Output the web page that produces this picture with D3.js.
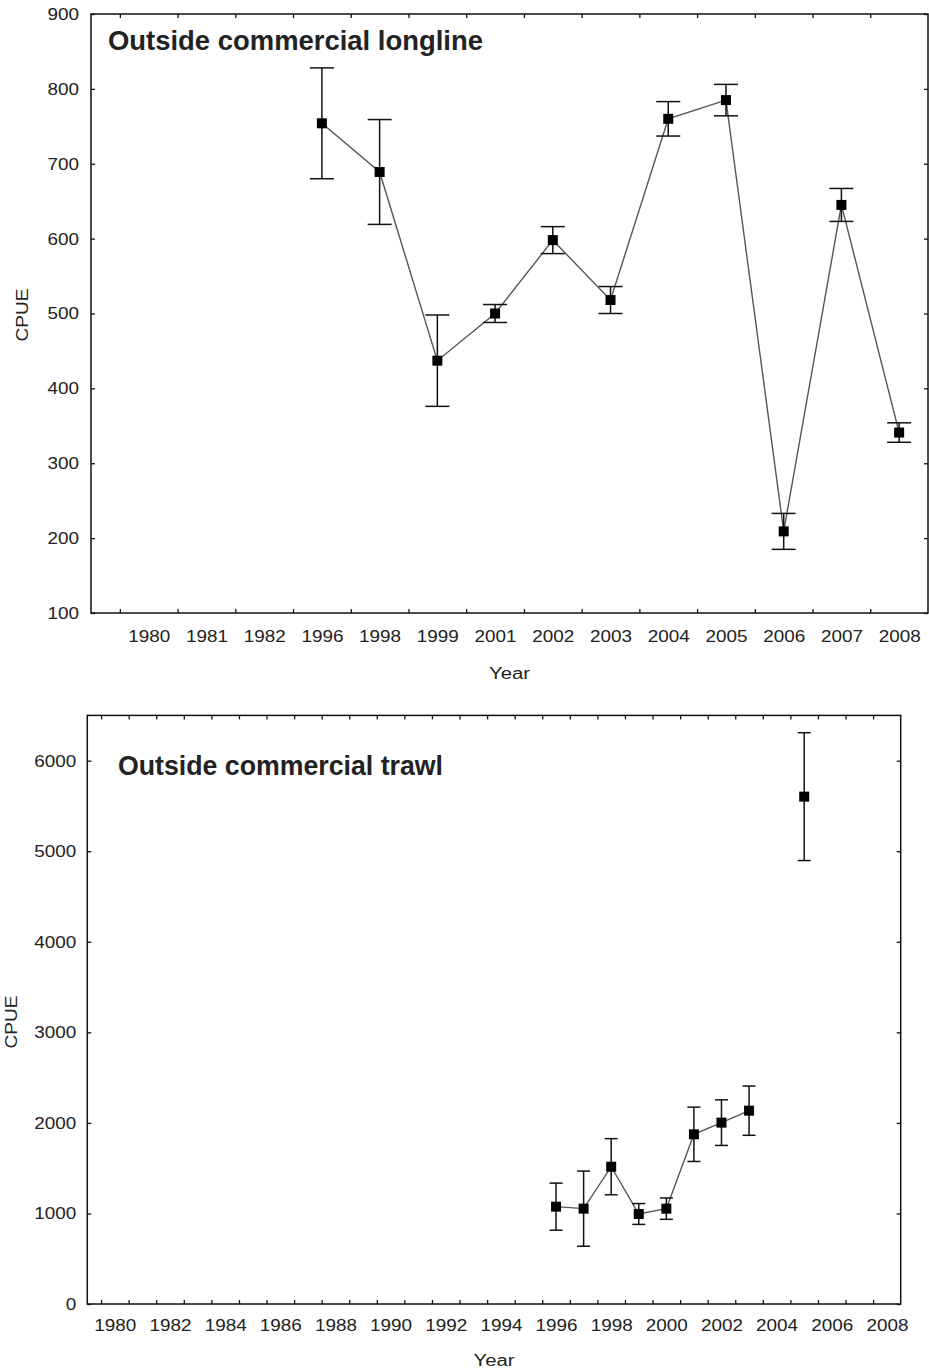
<!DOCTYPE html>
<html>
<head>
<meta charset="utf-8">
<script src="https://cdn.jsdelivr.net/npm/d3@7"></script>
<style>
  body { margin: 0; background: #fff; }
  svg text { font-family: "Liberation Sans", Arial, sans-serif; fill: #222; }
</style>
</head>
<body>
<div id="chart"></div>
<script>
// Top panel: outside commercial longline (categorical years)
const longlineYears = ['1980', '1981', '1982', '1996', '1998', '1999', '2001', '2002', '2003', '2004', '2005', '2006', '2007', '2008'];
const longlineCPUE = [null, null, null, 754, 689, 437, 500, 598, 518, 760, 785, 209, 645, 341];
const longlineErr = [null, null, null, 74, 70, 61, 12, 18, 18, 23, 21, 24, 22, 13];
const longlineYTicks = [100, 200, 300, 400, 500, 600, 700, 800, 900];

// Bottom panel: outside commercial trawl (2004 missing)
const trawlYears = [1996, 1997, 1998, 1999, 2000, 2001, 2002, 2003, 2004, 2005];
const trawlCPUE = [1075, 1053, 1516, 994, 1053, 1874, 2003, 2135, null, 5603];
const trawlErr = [260, 415, 310, 115, 118, 300, 252, 272, null, 706];
const trawlTickLabels = [1980, 1982, 1984, 1986, 1988, 1990, 1992, 1994, 1996, 1998, 2000, 2002, 2004, 2006, 2008];
const trawlCategories = [1980, 1981, 1982, 1983, 1984, 1985, 1986, 1987, 1988, 1989, 1990, 1991, 1992, 1993, 1994,
    1995, 1996, 1997, 1998, 1999, 2000, 2001, 2002, 2003, 2004, 2005, 2006, 2007, 2008];
const trawlYTicks = [0, 1000, 2000, 3000, 4000, 5000, 6000];

const W = 929, H = 1371;
const svg = d3.select('#chart').append('svg')
    .attr('width', W)
    .attr('height', H);

/**
 * Stretch tick labels a bit wider, the source rendering is horizontally scaled
 */
function widen(sel) {
    sel.selectAll('text').each(function() {
        const t = d3.select(this);
        const s = t.text();
        if (s) t.attr('textLength', s.length * 10.5).attr('lengthAdjust', 'spacingAndGlyphs');
    });
}

/**
 * Draw one panel: frame, inward ticks, labels, line, error bars, squares
 */
function drawPanel(cfg) {
    const x = d3.scaleLinear().domain(cfg.xDomain).range([cfg.left, cfg.right]);
    const y = d3.scaleLinear().domain(cfg.yDomain).range([cfg.bottom, cfg.top]);
    const g = svg.append('g');

    // frame
    g.append('rect')
        .attr('x', cfg.left)
        .attr('y', cfg.top)
        .attr('width', cfg.right - cfg.left)
        .attr('height', cfg.bottom - cfg.top)
        .attr('fill', 'none')
        .attr('stroke', '#111')
        .attr('stroke-width', 1.5);

    const tickStyle = sel => {
        sel.select('.domain').remove();
        sel.selectAll('line').attr('stroke', '#111').attr('stroke-width', 1.3);
    };

    // tick marks between categories, on all four sides (inward)
    g.append('g').attr('transform', `translate(0,${cfg.bottom})`)
        .call(d3.axisBottom(x).tickValues(cfg.markTicks).tickSize(-4).tickFormat(''))
        .call(tickStyle);
    g.append('g').attr('transform', `translate(0,${cfg.top})`)
        .call(d3.axisTop(x).tickValues(cfg.markTicks).tickSize(-4).tickFormat(''))
        .call(tickStyle);
    g.append('g').attr('transform', `translate(${cfg.right},0)`)
        .call(d3.axisRight(y).tickValues(cfg.yTicks).tickSize(-4).tickFormat(''))
        .call(tickStyle);

    // y axis with labels
    const yAxis = g.append('g').attr('transform', `translate(${cfg.left},0)`)
        .call(d3.axisLeft(y).tickValues(cfg.yTicks).tickSize(-4).tickPadding(cfg.yPad).tickFormat(d3.format('d')))
        .call(tickStyle);
    yAxis.selectAll('text').attr('font-size', 17).attr('fill', '#222');
    widen(yAxis);

    // x labels centred on categories
    const xLab = g.append('g').attr('transform', `translate(0,${cfg.bottom})`)
        .call(d3.axisBottom(x).tickValues(cfg.labelTicks).tickSize(0).tickPadding(cfg.xPad).tickFormat(cfg.labelFormat));
    xLab.select('.domain').remove();
    xLab.selectAll('text').attr('font-size', 17).attr('fill', '#222');
    widen(xLab);

    // axis titles
    g.append('text')
        .attr('x', (cfg.left + cfg.right) / 2)
        .attr('y', cfg.xTitleY)
        .attr('text-anchor', 'middle')
        .attr('font-size', 16)
        .attr('textLength', 41)
        .attr('lengthAdjust', 'spacingAndGlyphs')
        .text('Year');
    g.append('text')
        .attr('transform', `translate(${cfg.yTitleX},${cfg.yTitleY}) rotate(-90)`)
        .attr('text-anchor', 'middle')
        .attr('dy', '0.35em')
        .attr('font-size', 16)
        .attr('textLength', 53)
        .attr('lengthAdjust', 'spacingAndGlyphs')
        .text('CPUE');

    // panel title
    g.append('text')
        .attr('x', cfg.titleX)
        .attr('y', cfg.titleY)
        .attr('font-size', 27)
        .attr('font-weight', 'bold')
        .attr('fill', '#111')
        .attr('textLength', cfg.titleW)
        .attr('lengthAdjust', 'spacingAndGlyphs')
        .text(cfg.title);

    const pts = cfg.xs.map((xv, i) => ({ x: xv, v: cfg.values[i], e: cfg.errors[i] }));
    const valid = pts.filter(d => d.v != null);

    // connecting line (broken where data is missing)
    const line = d3.line()
        .defined(d => d.v != null)
        .x(d => x(d.x))
        .y(d => y(d.v));
    g.append('path')
        .datum(pts)
        .attr('d', line)
        .attr('fill', 'none')
        .attr('stroke', '#555')
        .attr('stroke-width', 1.4);

    // error bars
    const eb = g.selectAll('.err').data(valid).enter().append('g').attr('class', 'err')
        .attr('stroke', '#111').attr('stroke-width', 1.5);
    eb.append('line')
        .attr('x1', d => x(d.x)).attr('x2', d => x(d.x))
        .attr('y1', d => y(d.v + d.e)).attr('y2', d => y(d.v - d.e));
    eb.append('line')
        .attr('x1', d => x(d.x) - cfg.cap).attr('x2', d => x(d.x) + cfg.cap)
        .attr('y1', d => y(d.v + d.e)).attr('y2', d => y(d.v + d.e));
    eb.append('line')
        .attr('x1', d => x(d.x) - cfg.cap).attr('x2', d => x(d.x) + cfg.cap)
        .attr('y1', d => y(d.v - d.e)).attr('y2', d => y(d.v - d.e));

    // square markers
    g.selectAll('.pt').data(valid).enter().append('rect')
        .attr('class', 'pt')
        .attr('x', d => x(d.x) - 5)
        .attr('y', d => y(d.v) - 5)
        .attr('width', 10)
        .attr('height', 10)
        .attr('fill', '#000');
}

drawPanel({
    left: 91, right: 928, top: 14, bottom: 613,
    xDomain: [-1, longlineYears.length - 0.5],
    yDomain: [100, 900],
    yTicks: longlineYTicks,
    markTicks: longlineYears.map((d, i) => i - 0.5),
    labelTicks: longlineYears.map((d, i) => i),
    labelFormat: i => longlineYears[i],
    xs: longlineYears.map((d, i) => i),
    values: longlineCPUE,
    errors: longlineErr,
    cap: 12,
    yPad: 12, xPad: 17,
    xTitleY: 679, yTitleX: 22, yTitleY: 315,
    title: 'Outside commercial longline', titleX: 108, titleY: 50, titleW: 375
});

drawPanel({
    left: 87.3, right: 900.7, top: 715.4, bottom: 1304,
    xDomain: [1979, 2008.5],
    yDomain: [0, 6500],
    yTicks: trawlYTicks,
    markTicks: trawlCategories.map(d => d - 0.5),
    labelTicks: trawlTickLabels,
    labelFormat: d3.format('d'),
    xs: trawlYears,
    values: trawlCPUE,
    errors: trawlErr,
    cap: 6.5,
    yPad: 11, xPad: 15,
    xTitleY: 1366, yTitleX: 11, yTitleY: 1022,
    title: 'Outside commercial trawl', titleX: 118, titleY: 775, titleW: 325
});
</script>
</body>
</html>
